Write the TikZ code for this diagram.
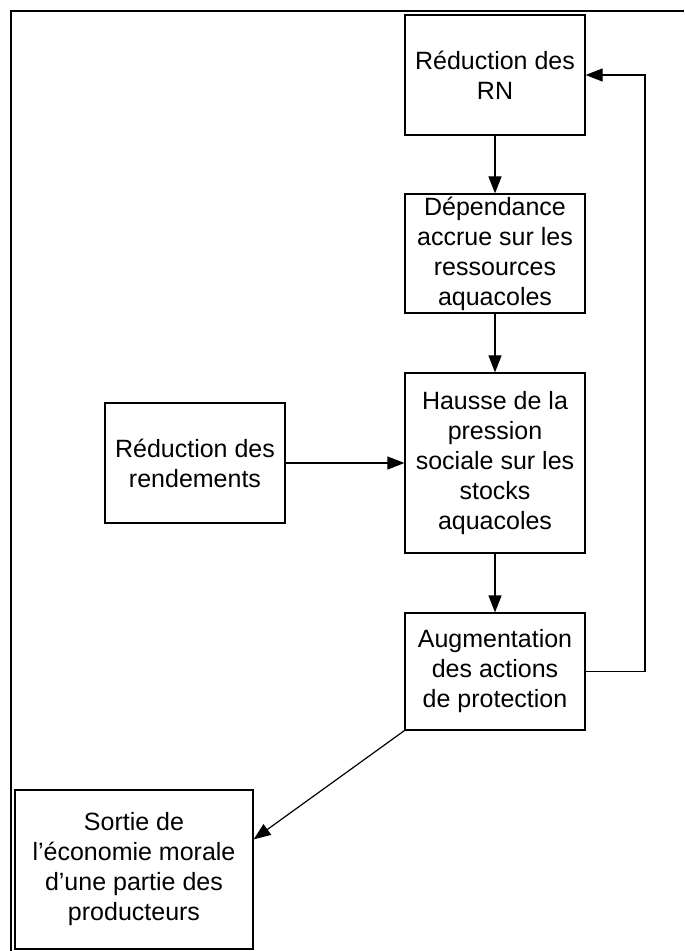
\documentclass[tikz,border=0pt]{standalone}
\usepackage{fontspec}
\setmainfont{Liberation Sans}
\usetikzlibrary{arrows.meta, calc}

\begin{document}
\begin{tikzpicture}[x=0.5pt, y=-0.5pt, line cap=butt, line join=miter, >={Triangle[length=8.5pt,width=6.5pt]},
	boite/.style={draw, line width=0.6pt, align=center, inner sep=0pt, minimum width=90pt,
		font=\fontsize{12.5pt}{15pt}\selectfont},
	fleche/.style={->, line width=0.6pt}]
	
	% Cadre de la page
	\useasboundingbox (0,0) rectangle (684,951);
	\draw[line width=1pt] (11,951) -- (11,11) -- (684,11);
	
	% --- Colonne principale ---
	\node[boite, minimum height=60pt] (reducRN) at (495,75) {Réduction des\\RN};
	\node[boite, minimum height=59.5pt] (dependance) at (495,253.5) {Dépendance\\accrue sur les\\ressources\\aquacoles};
	\node[boite, minimum height=90pt] (hausse) at (495,463) {Hausse de la\\pression\\sociale sur les\\stocks\\aquacoles};
	\node[boite, minimum height=58.5pt] (augment) at (495,671.5) {Augmentation\\des actions\\de protection};
	
	% --- Boites laterales ---
	\node[boite, minimum height=60pt] (rendements) at (195,463) {Réduction des\\rendements};
	\node[boite, minimum width=119pt, minimum height=79.5pt] (sortie) at (134,869.5) {Sortie de\\l’économie morale\\d’une partie des\\producteurs};
	
	% --- Liens ---
	\draw[fleche] (reducRN) -- (dependance);
	\draw[fleche] (dependance) -- (hausse);
	\draw[fleche] (hausse) -- (augment);
	\draw[fleche] (rendements) -- (hausse);
	
	% Boucle de retour vers la reduction des RN
	\coordinate (retour) at (645,0);
	\draw[fleche] (augment.east) -| (retour |- augment.east) |- (reducRN.east);
	
	% Sortie d'une partie des producteurs
	\draw[fleche] (augment.south west) -- ([yshift=-25pt]sortie.north east);
	
\end{tikzpicture}
\end{document}
